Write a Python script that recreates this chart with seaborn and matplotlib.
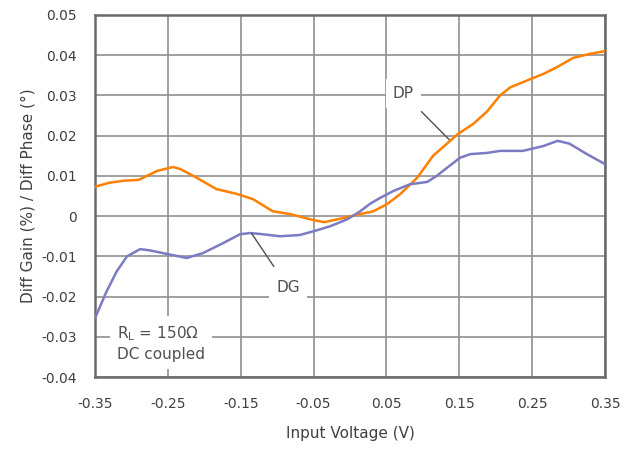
import matplotlib
matplotlib.use("Agg")
import matplotlib.pyplot as plt
import seaborn as sns
import pandas as pd

# Data
dp_v = [-0.35, -0.33, -0.31, -0.29, -0.265, -0.243, -0.233, -0.215, -0.183, -0.155,
        -0.133, -0.106, -0.082, -0.05, -0.035, -0.01, 0.014, 0.032, 0.051, 0.069,
        0.092, 0.114, 0.133, 0.148, 0.169, 0.188, 0.206, 0.22, 0.247, 0.265,
        0.284, 0.306, 0.329, 0.35]
dp = [0.0073, 0.0083, 0.0088, 0.0090, 0.0112, 0.0122, 0.0117, 0.0100, 0.0067, 0.0055,
      0.0042, 0.0012, 0.0005, -0.001, -0.0015, -0.0005, 0.0005, 0.0012, 0.003, 0.0055,
      0.0095, 0.015, 0.018, 0.0204, 0.0229, 0.026, 0.030, 0.032, 0.034, 0.0353,
      0.037, 0.0393, 0.0403, 0.041]

dg_v = [-0.35, -0.334, -0.32, -0.306, -0.288, -0.275, -0.251, -0.224, -0.202, -0.174,
        -0.151, -0.137, -0.12, -0.096, -0.069, -0.045, -0.027, -0.004, 0.014, 0.027,
        0.041, 0.059, 0.082, 0.106, 0.119, 0.133, 0.151, 0.165, 0.188, 0.206,
        0.237, 0.265, 0.285, 0.301, 0.325, 0.35]
dg = [-0.0254, -0.0187, -0.0137, -0.010, -0.0082, -0.0085, -0.0094, -0.0104, -0.0092, -0.0067,
      -0.0045, -0.0042, -0.0045, -0.005, -0.0047, -0.0035, -0.0025, -0.0008, 0.0012, 0.0030,
      0.0045, 0.0062, 0.0079, 0.0085, 0.010, 0.012, 0.0145, 0.0154, 0.0157, 0.0162,
      0.0162, 0.0174, 0.0187, 0.018, 0.0154, 0.0129]

x_ticks = [-0.35, -0.25, -0.15, -0.05, 0.05, 0.15, 0.25, 0.35]
y_ticks = [-0.04, -0.03, -0.02, -0.01, 0, 0.01, 0.02, 0.03, 0.04, 0.05]

df_dp = pd.DataFrame({"v": dp_v, "val": dp})
df_dg = pd.DataFrame({"v": dg_v, "val": dg})

sns.set_style("white")
plt.rcParams['font.family'] = ['DejaVu Sans']

fig = plt.figure(figsize=(6.37, 4.49), dpi=100)
ax = fig.add_axes([0.149, 0.160, 0.801, 0.807])

sns.lineplot(data=df_dp, x="v", y="val", ax=ax, color="#FF8000", linewidth=1.8, zorder=3)
sns.lineplot(data=df_dg, x="v", y="val", ax=ax, color="#7B7BC4", linewidth=1.8, zorder=3)

ax.set_xlim(-0.35, 0.35)
ax.set_ylim(-0.04, 0.05)
ax.set_xticks(x_ticks)
ax.set_xticklabels([f"{t:g}" for t in x_ticks])
ax.set_yticks(y_ticks)
ax.set_yticklabels([f"{t:g}" for t in y_ticks])
ax.grid(True, color="#909090", linewidth=1.2, zorder=1)
ax.set_axisbelow(True)
for s in ax.spines.values():
    s.set_color("#6a6a6a")
    s.set_linewidth(1.8)

txt = "#404040"
ax.tick_params(axis="x", labelsize=10, colors=txt, length=0, pad=14)
ax.tick_params(axis="y", labelsize=10, colors=txt, length=0, pad=13)
ax.set_xlabel("Input Voltage (V)", fontsize=11, color=txt, labelpad=11)
ax.set_ylabel("Diff Gain (%) / Diff Phase (°)", fontsize=11, color=txt, labelpad=4)

box = dict(facecolor="white", edgecolor="none", pad=5)
ax.annotate("DP", xy=(0.136, 0.0190), xytext=(0.073, 0.0305),
            fontsize=11, color="#505050", ha="center", va="center", bbox=box,
            arrowprops=dict(arrowstyle="-", color="#505050", lw=1, shrinkA=4, shrinkB=0), zorder=4)
ax.annotate("DG", xy=(-0.135, -0.0043), xytext=(-0.085, -0.0178),
            fontsize=11, color="#505050", ha="center", va="center", bbox=box,
            arrowprops=dict(arrowstyle="-", color="#505050", lw=1, shrinkA=6, shrinkB=0), zorder=4)
ax.text(-0.32, -0.0316, "R$_\\mathregular{L}$ = 150Ω\nDC coupled", fontsize=11, color="#505050",
        ha="left", va="center", linespacing=1.3,
        bbox=dict(facecolor="white", edgecolor="none", pad=5), zorder=4)

fig.savefig("out.png", dpi=100)
